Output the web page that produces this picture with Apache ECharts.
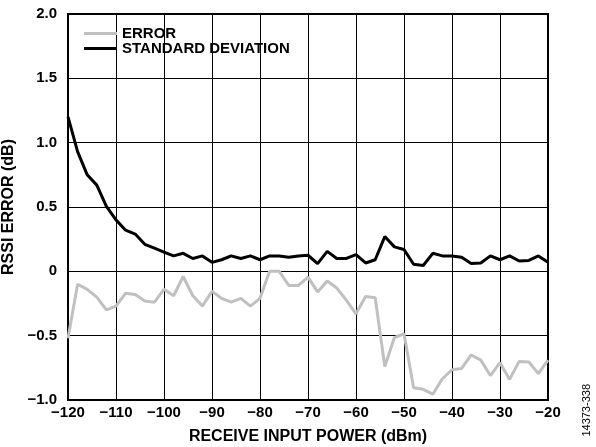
<!DOCTYPE html>
<html>
<head>
<meta charset="utf-8">
<script src="https://cdn.jsdelivr.net/npm/echarts@6/dist/echarts.min.js"></script>
<style>
  html, body { margin: 0; padding: 0; background: #fff; }
  #chart { width: 596px; height: 447px; }
</style>
</head>
<body>
<div id="chart"></div>
<script>
// receive input power (dBm), one sample every 2 dBm
const power = [
  -120, -118, -116, -114, -112, -110, -108, -106, -104, -102,
  -100, -98, -96, -94, -92, -90, -88, -86, -84, -82,
  -80, -78, -76, -74, -72, -70, -68, -66, -64, -62,
  -60, -58, -56, -54, -52, -50, -48, -46, -44, -42,
  -40, -38, -36, -34, -32, -30, -28, -26, -24, -22, -20
]
const errorVals = [
  -0.52, -0.10, -0.14, -0.20, -0.30, -0.27, -0.17, -0.18, -0.23, -0.24,
  -0.14, -0.19, -0.04, -0.19, -0.27, -0.155, -0.21, -0.24, -0.21, -0.27,
  -0.21, 0.0, 0.0, -0.11, -0.11, -0.045, -0.16, -0.075, -0.13, -0.225,
  -0.33, -0.195, -0.205, -0.74, -0.515, -0.485, -0.905, -0.917, -0.955, -0.835,
  -0.765, -0.755, -0.65, -0.69, -0.81, -0.71, -0.84, -0.70, -0.705, -0.795, -0.69
]
const stdDevVals = [
  1.20, 0.93, 0.75, 0.67, 0.505, 0.40, 0.32, 0.29, 0.21, 0.18,
  0.15, 0.12, 0.14, 0.10, 0.12, 0.07, 0.09, 0.12, 0.10, 0.12,
  0.09, 0.12, 0.12, 0.11, 0.12, 0.125, 0.06, 0.155, 0.10, 0.10,
  0.13, 0.065, 0.09, 0.27, 0.19, 0.17, 0.055, 0.045, 0.14, 0.12,
  0.12, 0.11, 0.06, 0.065, 0.12, 0.09, 0.12, 0.08, 0.085, 0.12, 0.07
]
const xTicks = { '-120': '−120', '-110': '−110', '-100': '−100', '-90': '−90', '-80': '−80',
  '-70': '−70', '-60': '−60', '-50': '−50', '-40': '−40', '-30': '−30', '-20': '−20' }
const yTicks = { '2': '2.0', '1.5': '1.5', '1': '1.0', '0.5': '0.5', '0': '0', '-0.5': '−0.5', '-1': '−1.0' }

const font = 'Liberation Sans, Arial, sans-serif'
const boldText = (size) => ({ fontFamily: font, fontWeight: 'bold', fontSize: size, color: '#000' })
const chart = echarts.init(document.getElementById('chart'))

const option = {
  animation: false,
  grid: {
    left: 68,
    right: 48,
    top: 14,
    bottom: 47,
    containLabel: false,
    outerBoundsMode: 'none',
    show: true,
    borderColor: '#000',
    borderWidth: 2,
  },
  legend: {
    orient: 'vertical',
    left: 79,
    top: 21,
    itemWidth: 33,
    itemHeight: 3,
    itemGap: 0,
    textStyle: { ...boldText(15), lineHeight: 15, padding: [0, 0, 0, 0] },
    data: [
      { name: 'ERROR', icon: 'rect' },
      { name: 'STANDARD DEVIATION', icon: 'rect' },
    ],
  },
  xAxis: {
    type: 'value',
    min: -120,
    max: -20,
    interval: 10,
    name: 'RECEIVE INPUT POWER (dBm)',
    nameLocation: 'middle',
    nameGap: 29,
    nameTextStyle: boldText(16),
    axisLine: { show: true, onZero: false, lineStyle: { color: '#000', width: 2 } },
    axisTick: { show: false },
    axisLabel: {
      ...boldText(15), margin: 5,
      formatter: (v) => xTicks[String(v)] ?? v,
    },
    splitLine: { show: true, lineStyle: { color: '#000', width: 1 } },
  },
  yAxis: {
    type: 'value',
    min: -1,
    max: 2,
    interval: 0.5,
    name: 'RSSI ERROR (dB)',
    nameLocation: 'middle',
    nameGap: 45,
    nameTextStyle: boldText(16),
    axisLine: { show: true, lineStyle: { color: '#000', width: 2 } },
    axisTick: { show: false },
    axisLabel: {
      ...boldText(15), margin: 11,
      formatter: (v) => yTicks[String(v)] ?? v,
    },
    splitLine: { show: true, lineStyle: { color: '#000', width: 1 } },
  },
  graphic: [
    {
      type: 'text',
      right: 4,
      top: 384,
      rotation: Math.PI / 2,
      style: { text: '14373-338', fontFamily: font, fontSize: 11, fill: '#000' },
    },
  ],
  series: [
    {
      name: 'ERROR',
      type: 'line',
      symbol: 'none',
      data: power.map((p, i) => [p, errorVals[i]]),
      lineStyle: { color: '#c0c0c0', width: 3 },
      itemStyle: { color: '#c0c0c0' },
    },
    {
      name: 'STANDARD DEVIATION',
      type: 'line',
      symbol: 'none',
      data: power.map((p, i) => [p, stdDevVals[i]]),
      lineStyle: { color: '#000', width: 3 },
      itemStyle: { color: '#000' },
    },
  ],
}

chart.setOption(option)
</script>
</body>
</html>
